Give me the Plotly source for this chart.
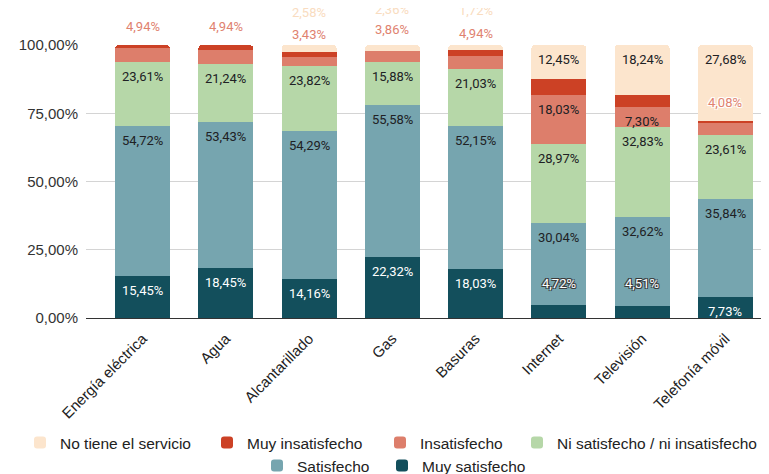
import plotly.graph_objects as go

# ---------------- data ----------------
categories = ["Energía eléctrica", "Agua", "Alcantarillado", "Gas", "Basuras",
              "Internet", "Televisión", "Telefonía móvil"]
series_names = ["Muy satisfecho", "Satisfecho", "Ni satisfecho / ni insatisfecho",
                "Insatisfecho", "Muy insatisfecho", "No tiene el servicio"]
muy_satisfecho = [15.45, 18.45, 14.16, 22.32, 18.03, 4.72, 4.51, 7.73]
satisfecho = [54.72, 53.43, 54.29, 55.58, 52.15, 30.04, 32.62, 35.84]
ni_satisfecho = [23.61, 21.24, 23.82, 15.88, 21.03, 28.97, 32.83, 23.61]
insatisfecho = [4.94, 4.94, 3.43, 3.86, 4.94, 18.03, 7.30, 4.08]
muy_insatisfecho = [1.28, 1.94, 1.72, 0.0, 2.13, 5.79, 4.50, 1.06]
no_tiene = [0.0, 0.0, 2.58, 2.36, 1.72, 12.45, 18.24, 27.68]
y_ticks = [0, 25, 50, 75, 100]

series_values = [muy_satisfecho, satisfecho, ni_satisfecho, insatisfecho,
                 muy_insatisfecho, no_tiene]


def fmt(v):
    return f"{v:.2f}".replace(".", ",") + "%"


y_ticktext = [fmt(t) for t in y_ticks]

# ---------------- style ----------------
# browser default body margin (8px) is compensated by a smaller figure
W, H = 761, 466
colors = ["#134f5c", "#76a5af", "#b6d7a8", "#dd7e6b", "#cc4125", "#fce5cd"]
label_colors = ["#ffffff", "#202124", "#202124", "#202124", None, "#202124"]
LABEL_FONT = "Roboto, Arial, sans-serif"
AXIS_FONT = "Liberation Sans, Arial, sans-serif"
outline_dark = ("-1px -1px 0 #3a3a3a, 1px -1px 0 #3a3a3a, "
                "-1px 1px 0 #3a3a3a, 1px 1px 0 #3a3a3a")
outline_white = ("-1px -1px 0 #ffffff, 1px -1px 0 #ffffff, "
                 "-1px 1px 0 #ffffff, 1px 1px 0 #ffffff")
overrides = {
    (0, 5): dict(ref="segment", yshift=22, color="#ffffff", shadow=outline_dark),
    (0, 6): dict(ref="segment", yshift=22, color="#ffffff", shadow=outline_dark),
    (3, 0): dict(ref="total", yshift=19, color="#e0826f", shadow="none"),
    (3, 1): dict(ref="total", yshift=19, color="#e0826f", shadow="none"),
    (3, 2): dict(ref="total", yshift=11, color="#e0826f", shadow="none"),
    (3, 3): dict(ref="total", yshift=16, color="#e0826f", shadow="none"),
    (3, 4): dict(ref="total", yshift=12, color="#e0826f", shadow="none"),
    (3, 7): dict(ref="segment", yshift=21, color="#e0826f", shadow=outline_white),
    (5, 2): dict(ref="total", yshift=33, color="#f9dcc0", shadow="none"),
    (5, 3): dict(ref="total", yshift=36, color="#f9dcc0", shadow="none"),
    (5, 4): dict(ref="total", yshift=35, color="#f9dcc0", shadow="none"),
}
INSIDE_MIN = 7.0
INSIDE_SHIFT = -14.5

# legend placement (container px, left edge of each entry; row top in px)
legend_slots = {  # series index -> (x px, row)
    5: (12, 0), 4: (199, 0), 3: (372, 0), 2: (509, 0),
    1: (249, 1), 0: (374, 1),
}
row_top = [418, 441]
legend_ids = ["legend", "legend2", "legend3", "legend4", "legend5", "legend6"]

fig = go.Figure()
for si, (name, vals, col) in enumerate(zip(series_names, series_values, colors)):
    fig.add_trace(go.Bar(x=categories, y=vals, name=name, marker_color=col,
                         marker_line_width=0, hoverinfo="x+y+name",
                         legend=legend_ids[si]))

annotations = []
cum = [0.0] * len(categories)
totals = [sum(s[i] for s in series_values) for i in range(len(categories))]
for si, vals in enumerate(series_values):
    for ci, v in enumerate(vals):
        top = cum[ci] + v
        cum[ci] = top
        if v <= 0:
            continue
        if (si, ci) in overrides:
            o = overrides[(si, ci)]
            yv = top if o["ref"] == "segment" else totals[ci]
            annotations.append(dict(
                x=categories[ci], y=yv, xref="x", yref="y",
                text=fmt(v), showarrow=False, yanchor="middle", yshift=o["yshift"],
                font=dict(family=LABEL_FONT, size=13, color=o["color"],
                          shadow=o["shadow"])))
        elif label_colors[si] is not None and v >= INSIDE_MIN:
            annotations.append(dict(
                x=categories[ci], y=top, xref="x", yref="y",
                text=fmt(v), showarrow=False, yanchor="middle", yshift=INSIDE_SHIFT,
                font=dict(family=LABEL_FONT, size=13, color=label_colors[si])))

layout_legends = {}
for si, lid in enumerate(legend_ids):
    xpx, row = legend_slots[si]
    layout_legends[lid] = dict(
        orientation="h", xref="container", yref="container",
        x=xpx / W, xanchor="left", y=1 - row_top[row] / H, yanchor="top",
        font=dict(family=AXIS_FONT, size=15.5, color="#222222"),
        itemclick=False, itemdoubleclick=False, bgcolor="rgba(0,0,0,0)")

fig.update_layout(
    barmode="stack",
    bargap=0.34,
    barcornerradius=4,
    width=W, height=H,
    margin=dict(l=78, r=2, t=37, b=H - 37 - 273, pad=0, autoexpand=False),
    paper_bgcolor="white", plot_bgcolor="white",
    font=dict(family=AXIS_FONT, color="#333333"),
    annotations=annotations,
    showlegend=True,
    xaxis=dict(range=[-0.68, 7.5], tickangle=-45, showgrid=False,
               showline=False, ticks="", ticklabelstandoff=8,
               tickfont=dict(family=AXIS_FONT, size=15, color="#222222")),
    yaxis=dict(range=[0, 100], tickvals=y_ticks, ticktext=y_ticktext,
               showgrid=True, gridcolor="#d4d4d4", gridwidth=1,
               zeroline=True, zerolinecolor="#333333", zerolinewidth=1.3,
               showline=False, ticks="", ticklabelstandoff=7,
               tickfont=dict(family=AXIS_FONT, size=15, color="#333333")),
    **layout_legends,
)

fig.write_html("out.html")
